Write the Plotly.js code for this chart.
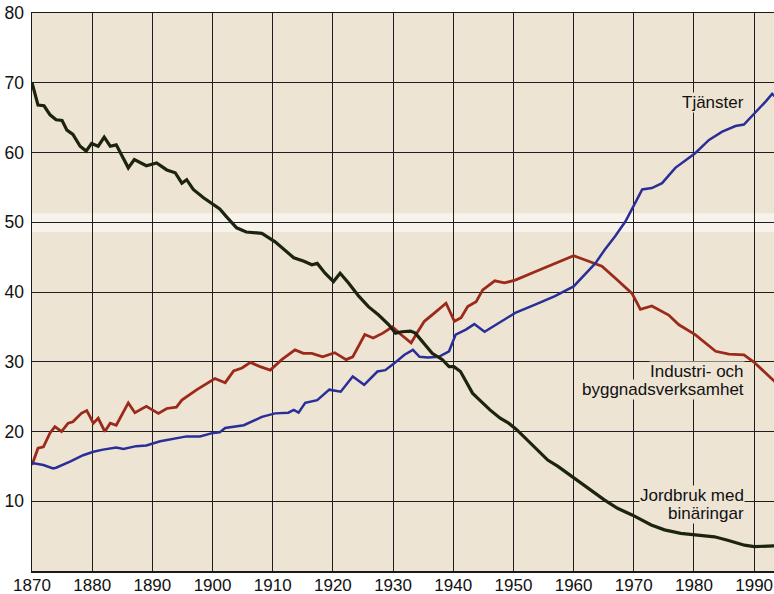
<!DOCTYPE html>
<html><head><meta charset="utf-8">
<script src="https://cdn.plot.ly/plotly-3.0.1.min.js"></script>
<style>html,body{margin:0;padding:0;background:#fff}#chart{width:774px;height:594px}</style>
</head><body><div id="chart"></div>
<script>
// Jordbruk med binäringar
const agriYears = [1870,1871,1872,1873,1874,1875,1875.8,1876.8,1878,1879,1879.9,1881,1882,1883,1884,1886,1887,1888,1889,1890.7,1892.4,1893.8,1894.9,1895.7,1896.8,1898.5,1900,1901.2,1902.3,1904,1905.6,1908.2,1910.4,1912,1913.5,1915.2,1916.5,1917.4,1918.7,1920.1,1921.2,1922.6,1924.3,1925.9,1927.6,1929.3,1930.4,1931.5,1932.9,1933.7,1934.8,1936.5,1938.2,1939.3,1940.1,1941.2,1942.1,1943.2,1944.4,1946.1,1947.8,1949.2,1950.5,1952.9,1955.7,1957.4,1960.1,1962.9,1965.1,1967.3,1969.8,1972.9,1975.1,1977.8,1980.6,1983.4,1985.6,1988.4,1990,1991.2,1993.5];
const agriVals = [70.0,66.8,66.7,65.4,64.7,64.6,63.2,62.6,60.9,60.2,61.3,60.9,62.2,60.9,61.1,57.8,59.0,58.5,58.1,58.5,57.5,57.1,55.6,56.1,54.7,53.5,52.6,51.9,50.8,49.2,48.6,48.4,47.2,46.0,44.9,44.4,43.9,44.1,42.7,41.5,42.7,41.3,39.4,37.9,36.7,35.3,34.1,34.3,34.4,34.1,32.9,31.2,30.3,29.3,29.3,28.6,27.2,25.5,24.5,23.1,21.9,21.2,20.3,18.3,15.9,15.0,13.3,11.6,10.2,9.0,8.0,6.6,5.9,5.4,5.2,4.9,4.4,3.7,3.5,3.5,3.6];

// Industri- och byggnadsverksamhet
const indYears = [1870,1871,1871.9,1873,1873.8,1874.9,1876,1876.8,1878.2,1879.1,1880.2,1881,1882.1,1883,1884,1886,1887.1,1889,1891,1892.4,1894,1894.9,1897.4,1898.8,1900.4,1902.1,1903.5,1904.9,1906.3,1907.9,1909.6,1911.5,1913.7,1915.1,1916.5,1918.3,1920.3,1922.2,1923.3,1925.3,1926.7,1928.3,1929.9,1931.3,1933,1934.1,1935.2,1936.9,1938.8,1940.2,1941.3,1942.4,1943.8,1944.9,1946.9,1948.5,1950.3,1953.6,1956.9,1960,1962.5,1964.7,1966.9,1969.7,1971.1,1973,1975.8,1977.5,1980.2,1983.6,1985.8,1988.3,1989.9,1991.9,1993.5];
const indVals = [15.2,17.6,17.8,19.8,20.7,20.0,21.2,21.4,22.6,23.0,21.2,21.9,20.0,21.2,20.9,24.1,22.7,23.6,22.6,23.3,23.5,24.5,26.0,26.7,27.6,27.0,28.7,29.1,29.9,29.3,28.8,30.3,31.7,31.2,31.2,30.7,31.3,30.3,30.7,33.9,33.4,34.1,35.0,33.9,32.7,34.3,35.8,37.0,38.4,35.8,36.3,37.9,38.6,40.3,41.6,41.3,41.7,42.9,44.1,45.2,44.4,43.7,42.0,39.8,37.5,38.0,36.7,35.3,33.9,31.5,31.1,31.0,30.0,28.4,27.1];

// Tjänster
const servYears = [1870,1871.9,1873.5,1874,1876.4,1878.5,1880.2,1881.8,1884,1885.2,1887.3,1889,1891.3,1893.5,1895.7,1897.9,1900.1,1901.2,1902.1,1905.2,1907.4,1908.2,1910.4,1912.6,1913.5,1914.3,1915.4,1917.4,1919.4,1921.3,1923.3,1925.2,1927.4,1928.7,1930.2,1931.9,1933.3,1934.4,1935.8,1937.6,1939.3,1940.4,1942.1,1943.5,1945.2,1947.1,1948.8,1950.3,1953.6,1956.9,1960,1961.9,1963.6,1965.2,1966.9,1968.6,1969.7,1970.5,1971.4,1973,1974.7,1976.9,1980.2,1982.5,1984.7,1986.9,1988.3,1990.2,1991.9,1993,1993.5];
const servVals = [15.5,15.2,14.7,14.8,15.7,16.6,17.1,17.4,17.7,17.5,17.9,18.0,18.6,18.9,19.3,19.3,19.8,19.9,20.5,20.9,21.7,22.1,22.6,22.7,23.1,22.7,24.1,24.5,26.0,25.7,27.9,26.7,28.6,28.8,29.8,31.0,31.7,30.7,30.6,30.7,31.5,33.9,34.6,35.4,34.3,35.3,36.3,37.0,38.2,39.4,40.8,42.5,44.1,46.1,48.0,50.1,51.8,53.2,54.7,54.9,55.6,57.8,59.9,61.8,63.0,63.8,64.0,65.7,67.3,68.4,68.0];

const xTicks = [1870,1880,1890,1900,1910,1920,1930,1940,1950,1960,1970,1980,1990];
const yTicks = [10,20,30,40,50,60,70,80];
const labels = [
  {text:'Tjänster', x:1988.5, y:67.1},
  {text:'Industri- och', x:1988.5, y:28.6},
  {text:'byggnadsverksamhet', x:1988.5, y:26.0},
  {text:'Jordbruk med', x:1988.5, y:10.8},
  {text:'binäringar', x:1988.5, y:8.2}
];

const BEIGE = '#ede4d4';
const traces = [
  {x:indYears, y:indVals, mode:'lines', line:{color:'#9c2a1a', width:2.8}, hoverinfo:'skip'},
  {x:servYears, y:servVals, mode:'lines', line:{color:'#2a2f98', width:2.5}, hoverinfo:'skip'},
  {x:agriYears, y:agriVals, mode:'lines', line:{color:'#1c2410', width:3.2}, hoverinfo:'skip'}
];
const font = {family:'Liberation Sans, Arial, sans-serif', size:17.5, color:'#111'};
const xfont = {family:'Liberation Sans, Arial, sans-serif', size:17, color:'#111'};
const layout = {
  width:774, height:594,
  margin:{l:32, r:0, t:13, b:23},
  paper_bgcolor:'#ffffff', plot_bgcolor:BEIGE,
  showlegend:false,
  font:font,
  xaxis:{range:[1870,1993.3], tickvals:xTicks, ticktext:xTicks.map(String), showgrid:true, gridcolor:'#1e1e1e', gridwidth:1,
    showline:true, linecolor:'#1a1a1a', linewidth:1.5, mirror:true, zeroline:false, ticks:'', ticklabelstandoff:-2, tickfont:xfont, fixedrange:true},
  yaxis:{range:[0,80], tickvals:yTicks, ticktext:yTicks.map(String), showgrid:true, gridcolor:'#1e1e1e', gridwidth:1,
    showline:true, linecolor:'#1a1a1a', linewidth:1.5, zeroline:false, ticks:'', ticklabelstandoff:3, tickfont:font, fixedrange:true},
  shapes:[{type:'rect', xref:'paper', x0:0, x1:1, yref:'y', y0:48.6, y1:51.3, fillcolor:'rgba(248,245,240,0.85)', line:{width:0}, layer:'below'}],
  annotations: labels.map(l=>({text:l.text, x:l.x, y:l.y, xref:'x', yref:'y', xanchor:'right', yanchor:'middle', showarrow:false,
    font:{family:'Liberation Sans, Arial, sans-serif', size:17, color:'#111'}, bgcolor:BEIGE, borderpad:0}))
};
Plotly.newPlot('chart', traces, layout, {staticPlot:true, displayModeBar:false});
</script></body></html>
